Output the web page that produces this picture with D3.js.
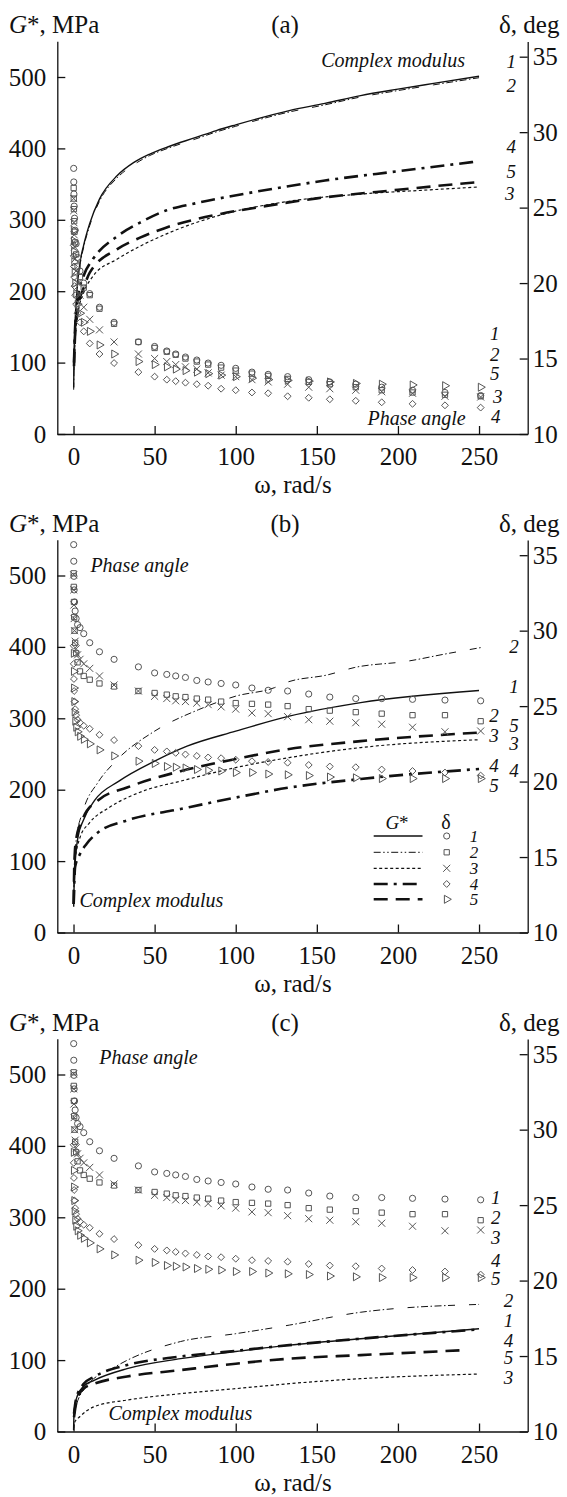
<!DOCTYPE html>
<html>
<head>
<meta charset="utf-8">
<script src="https://cdn.jsdelivr.net/npm/d3@7"></script>
<style>
  body { margin: 0; background: #fff; }
  text { font-family: "Liberation Serif", "Times New Roman", serif; fill: #111; }
</style>
</head>
<body>
<div id="chart"></div>
<script>
// frequency points of the phase-angle sweep, rad/s
var omega = [0.1, 0.16, 0.25, 0.4, 0.63, 1, 1.6, 2.5, 4, 6.3, 10, 16, 25, 40, 50, 57.5, 63, 69, 76, 83, 91, 100, 110, 120, 132, 145, 158, 174, 190, 209, 229, 251];

// panel (a) phase angle, deg
var deltaA1 = [27.6, 26.7, 25.9, 25.1, 24.3, 23.5, 22.6, 21.7, 20.8, 20.0, 19.3, 18.4, 17.4, 16.1, 15.8, 15.5, 15.3, 15.1, 14.9, 14.7, 14.55, 14.35, 14.1, 13.95, 13.8, 13.6, 13.45, 13.3, 13.1, 12.9, 12.75, 12.55];
var deltaA2 = [26.3, 25.6, 24.9, 24.1, 23.4, 22.7, 21.9, 21.1, 20.4, 19.7, 19.2, 18.3, 17.3, 16.1, 15.7, 15.45, 15.25, 15.0, 14.8, 14.6, 14.4, 14.2, 14.0, 13.85, 13.65, 13.45, 13.3, 13.1, 12.9, 12.75, 12.6, 12.5];
var deltaA3 = [25.6, 24.8, 24.0, 23.2, 22.4, 21.6, 20.8, 20.0, 19.2, 18.4, 17.6, 16.9, 16.1, 15.3, 15.0, 14.8, 14.6, 14.45, 14.3, 14.05, 13.9, 13.8, 13.6, 13.45, 13.3, 13.1, 13.0, 12.9, 12.8, 12.7, 12.5, 12.45];
var deltaA4 = [22.5, 21.8, 21.1, 20.4, 19.8, 19.2, 18.6, 18.0, 17.4, 16.8, 16.0, 15.3, 14.7, 14.1, 13.8, 13.6, 13.5, 13.4, 13.3, 13.2, 13.0, 12.9, 12.75, 12.7, 12.5, 12.4, 12.3, 12.2, 12.1, 12.0, 11.9, 11.75];
var deltaA5 = [23.5, 22.8, 22.1, 21.4, 20.7, 20.0, 19.3, 18.6, 18.0, 17.4, 16.8, 15.9, 15.3, 14.8, 14.6, 14.45, 14.3, 14.2, 14.1, 14.0, 13.9, 13.8, 13.7, 13.6, 13.55, 13.5, 13.45, 13.35, 13.3, 13.25, 13.2, 13.1];

// panels (b) and (c) phase angle, deg (same sweep in both)
var deltaB1 = [35.7, 34.6, 33.6, 32.7, 31.9, 31.3, 30.8, 30.4, 30.2, 29.8, 29.2, 28.6, 28.1, 27.6, 27.2, 27.1, 27.0, 26.9, 26.7, 26.6, 26.5, 26.4, 26.2, 26.05, 26.0, 25.8, 25.6, 25.5, 25.5, 25.45, 25.4, 25.35];
var deltaB2 = [33.8, 32.9, 31.9, 30.9, 30.0, 29.2, 28.5, 27.9, 27.3, 27.0, 26.75, 26.5, 26.3, 26.0, 25.87, 25.76, 25.65, 25.6, 25.5, 25.43, 25.3, 25.2, 25.15, 25.1, 25.0, 24.8, 24.7, 24.6, 24.5, 24.4, 24.4, 24.0];
var deltaB3 = [33.7, 32.7, 31.7, 30.8, 30.0, 29.3, 28.8, 28.4, 28.1, 27.8, 27.5, 27.0, 26.4, 26.0, 25.65, 25.5, 25.35, 25.3, 25.2, 25.1, 24.95, 24.8, 24.55, 24.5, 24.3, 24.1, 24.0, 23.9, 23.8, 23.6, 23.3, 23.35];
var deltaB4 = [29.0, 27.8, 26.8, 26.0, 25.3, 24.8, 24.4, 24.1, 23.9, 23.7, 23.5, 23.1, 22.75, 22.35, 22.1, 22.0, 21.9, 21.8, 21.7, 21.6, 21.55, 21.45, 21.35, 21.3, 21.25, 21.1, 21.0, 20.95, 20.8, 20.7, 20.6, 20.4];
var deltaB5 = [28.5, 27.3, 26.2, 25.3, 24.6, 24.0, 23.6, 23.3, 23.0, 22.8, 22.5, 22.1, 21.7, 21.35, 21.2, 21.0, 20.95, 20.9, 20.8, 20.75, 20.7, 20.6, 20.6, 20.5, 20.45, 20.4, 20.3, 20.25, 20.2, 20.2, 20.2, 20.2];

// complex modulus G*, [omega, MPa]
var gA1 = [[0.1, 65], [0.3, 105], [0.6, 135], [1, 158], [2, 198], [4, 240], [6.3, 265], [10, 295], [16, 329], [27, 362], [37, 380], [47, 392], [58, 402], [75, 415], [88, 425], [100, 433], [133, 453], [155, 463], [177, 474], [200, 483], [222, 491], [250, 501]];
var gA2 = [[0.1, 62], [0.3, 100], [0.6, 130], [1, 155], [2, 194], [4, 236], [6.3, 262], [10, 292], [16, 326], [27, 359], [37, 377], [47, 390], [58, 400], [75, 413], [88, 423], [100, 431], [133, 451], [155, 461], [177, 472], [200, 481], [222, 489], [250, 499]];
var gA3 = [[0.3, 90], [1, 130], [3, 172], [6.3, 198], [12, 221], [27, 245], [41, 263], [57, 280], [88, 305], [133, 326], [177, 336], [220, 342], [250, 346]];
var gA4 = [[0.3, 100], [1, 150], [3, 195], [6.3, 222], [12, 245], [27, 277], [41, 296], [57, 313], [75, 323], [97, 333], [130, 346], [155, 355], [200, 368], [250, 382]];
var gA5 = [[0.3, 95], [1, 140], [3, 180], [6.3, 205], [10, 226], [27, 259], [41, 275], [57, 289], [90, 308], [115, 318], [150, 330], [200, 342], [250, 353]];

var gB1 = [[0.1, 36], [0.3, 60], [0.9, 92], [2.7, 133], [6, 157], [13, 185], [28, 212], [50, 240], [70, 261], [100, 282], [133, 303], [177, 322], [250, 339]];
var gB2 = [[0.5, 95], [1.6, 129], [6, 171], [15, 210], [26, 240], [50, 282], [77, 312], [100, 331], [124, 343], [131, 350], [157, 361], [173, 371], [206, 380], [229, 390], [251, 399]];
var gB3 = [[0.1, 40], [0.5, 92], [4, 133], [10, 154], [22, 175], [44, 199], [66, 212], [100, 231], [133, 245], [177, 259], [250, 270]];
var gB4 = [[0.1, 40], [1, 92], [4, 110], [8, 124], [15, 140], [33, 157], [66, 173], [100, 189], [133, 203], [177, 215], [250, 229]];
var gB5 = [[0.1, 40], [0.5, 96], [1.5, 129], [6, 161], [15, 185], [33, 203], [66, 226], [100, 243], [133, 257], [177, 268], [250, 280]];

var gC1 = [[0.05, 2], [0.3, 25], [1.5, 44], [6, 63], [13, 72], [33, 88], [66, 102], [100, 112], [133, 121], [177, 130], [250, 144]];
var gC2 = [[0.3, 20], [1.5, 35], [8, 63], [26, 91], [66, 126], [100, 137], [133, 149], [177, 167], [250, 178]];
var gC3 = [[0.1, 5], [0.5, 12], [4, 21], [13, 35], [33, 44], [66, 53], [100, 60], [133, 67], [177, 74], [250, 80.5]];
var gC4 = [[0.3, 25], [1.5, 45], [6, 66], [13, 77], [33, 93], [66, 105], [100, 113], [133, 121], [177, 130], [250, 143]];
var gC5 = [[0.3, 20], [1.5, 38], [6, 60], [13, 67], [33, 77], [66, 86], [100, 95], [133, 102], [177, 107], [242, 114]];

// tick labels
var xTicks = [0, 50, 100, 150, 200, 250];
var gTicks = [0, 100, 200, 300, 400, 500];
var dTicks = [10, 15, 20, 25, 30, 35];

// annotations: [omega, MPa, text]
var notesA = [[267, 512, "1"], [267, 479, "2"], [267, 393, "4"], [267, 359, "5"], [266, 328, "3"],
              [256.8, 132, "1"], [256.8, 102, "2"], [256.8, 76, "5"], [258.6, 43, "3"], [257.4, 15, "4"]];
var notesB = [[268.6, 391, "2"], [268.6, 335, "1"], [268.6, 281, "5"], [268.6, 256, "3"], [268.6, 218, "4"],
              [256.3, 295, "2"], [256.3, 267, "3"], [256.3, 225, "4"], [256.3, 197, "5"]];
var notesC = [[257.4, 319, "1"], [257.4, 291, "2"], [257.4, 263, "3"], [257.4, 230, "4"], [257.4, 205, "5"],
              [265.2, 174, "2"], [265.2, 147, "1"], [265.2, 119, "4"], [265.2, 95, "5"], [265.2, 67, "3"]];

var lineStyles = [
  {w: 1.4, dash: null},
  {w: 1.0, dash: "7,2.5,1.5,2.5,7,2.5,1.5,2.5,7,2.5,1.5,2.5,7,14"},
  {w: 1.2, dash: "3,2.5"},
  {w: 2.6, dash: "14,6,3,6"},
  {w: 2.6, dash: "14,8"}
];
var symbols = [d3.symbolCircle, d3.symbolSquare, d3.symbolTimes || d3.symbolCross, d3.symbolDiamond2 || d3.symbolDiamond, d3.symbolTriangle];
var symSize = [30, 28, 34, 30, 28];

var svg = d3.select("#chart").append("svg")
    .attr("width", 567)
    .attr("height", 1497);

var x = d3.scaleLinear().domain([-10, 280]).range([57.3, 527.7]);

function panel({bottom, tag, lines, deltas, notes, legend, phaseNote, modulusNote})
{
    var yL = d3.scaleLinear().domain([0, 550]).range([bottom, bottom - 392.7]);
    var yR = d3.scaleLinear().domain([10, 36]).range([bottom, bottom - 392.4]);
    var g = svg.append("g");

    var xAxis = d3.axisBottom(x).tickValues(xTicks).tickSizeInner(-8).tickSizeOuter(0).tickPadding(13.5);
    var lAxis = d3.axisLeft(yL).tickValues(gTicks).tickSizeInner(-8).tickSizeOuter(0).tickPadding(11);
    var rAxis = d3.axisRight(yR).tickValues(dTicks).tickSizeInner(-8).tickSizeOuter(0).tickPadding(5);

    g.append("g").attr("transform", "translate(0," + bottom + ")").call(xAxis);
    g.append("g").attr("transform", "translate(" + x.range()[0] + ",0)").call(lAxis);
    g.append("g").attr("transform", "translate(" + x.range()[1] + ",0)").call(rAxis);
    g.selectAll(".domain, .tick line").attr("stroke", "#111").attr("stroke-width", 1.3);
    g.selectAll(".tick text").attr("font-size", 25).attr("fill", "#111")
        .style("font-family", '"Liberation Serif", "Times New Roman", serif');

    // titles
    var t = g.append("text").attr("x", 9).attr("y", bottom - 401).attr("font-size", 25);
    t.append("tspan").attr("font-style", "italic").text("G");
    t.append("tspan").text("*, MPa");
    g.append("text").attr("x", 285).attr("y", bottom - 401).attr("font-size", 25)
        .attr("text-anchor", "middle").text("(" + tag + ")");
    g.append("text").attr("x", 499).attr("y", bottom - 401).attr("font-size", 25).text("δ, deg");
    g.append("text").attr("x", 293).attr("y", bottom + 59).attr("font-size", 25)
        .attr("text-anchor", "middle").text("ω, rad/s");

    // G* curves
    var line = d3.line().x(d => x(d[0])).y(d => yL(d[1])).curve(d3.curveMonotoneX);
    lines.forEach(function(s, i) {
        g.append("path").datum(s)
            .attr("d", line)
            .attr("fill", "none")
            .attr("stroke", "#111")
            .attr("stroke-width", lineStyles[i].w)
            .attr("stroke-dasharray", lineStyles[i].dash);
    });

    // phase angle markers
    deltas.forEach(function(s, i) {
        g.append("g").selectAll("path")
            .data(s)
            .enter()
            .append("path")
            .attr("d", d3.symbol().type(symbols[i]).size(symSize[i]))
            .attr("transform", function(d, k) {
                return "translate(" + x(omega[k]) + "," + yR(d) + ")" + (i == 4 ? " rotate(90)" : "");
            })
            .attr("fill", "none")
            .attr("stroke", "#555")
            .attr("stroke-width", 1);
    });

    // curve numbers
    g.append("g").selectAll("text")
        .data(notes)
        .enter()
        .append("text")
        .attr("x", d => x(d[0]))
        .attr("y", d => yL(d[1]))
        .attr("font-size", 19)
        .attr("font-style", "italic")
        .text(d => d[2]);

    g.append("text").attr("x", x(phaseNote[0])).attr("y", yL(phaseNote[1]))
        .attr("text-anchor", phaseNote[2]).attr("font-size", 20).attr("font-style", "italic").text("Phase angle");
    g.append("text").attr("x", x(modulusNote[0])).attr("y", yL(modulusNote[1]))
        .attr("text-anchor", modulusNote[2]).attr("font-size", 20).attr("font-style", "italic").text("Complex modulus");

    if (legend) {
        var lg = g.append("g");
        var h = lg.append("text").attr("x", 397).attr("y", bottom - 104).attr("font-size", 19).attr("text-anchor", "middle");
        h.append("tspan").attr("font-style", "italic").text("G");
        h.append("tspan").text("*");
        lg.append("text").attr("x", 446).attr("y", bottom - 104).attr("font-size", 20).attr("text-anchor", "middle").text("δ");
        var rows = [96.5, 80.2, 64.2, 48.5, 33.2];
        rows.forEach(function(r, i) {
            var yy = bottom - r;
            lg.append("line").attr("x1", 373.7).attr("x2", 422.5).attr("y1", yy).attr("y2", yy)
                .attr("stroke", "#111").attr("stroke-width", lineStyles[i].w)
                .attr("stroke-dasharray", i == 1 ? "7,2.5,1.5,2.5,1.5,2.5" : lineStyles[i].dash);
            lg.append("path").attr("d", d3.symbol().type(symbols[i]).size(symSize[i]))
                .attr("transform", "translate(446.7," + yy + ")" + (i == 4 ? " rotate(90)" : ""))
                .attr("fill", "none").attr("stroke", "#555").attr("stroke-width", 1);
            lg.append("text").attr("x", 474).attr("y", yy + 6).attr("font-size", 17)
                .attr("font-style", "italic").attr("text-anchor", "middle").text(i + 1);
        });
    }
}

panel({bottom: 434, tag: "a",
       lines: [gA1, gA2, gA3, gA4, gA5],
       deltas: [deltaA1, deltaA2, deltaA3, deltaA4, deltaA5],
       notes: notesA,
       phaseNote: [241.8, 12.6, "end"], modulusNote: [241.4, 514, "end"]});
panel({bottom: 932.5, tag: "b",
       lines: [gB1, gB2, gB3, gB4, gB5],
       deltas: [deltaB1, deltaB2, deltaB3, deltaB4, deltaB5],
       notes: notesB, legend: true,
       phaseNote: [10.4, 505, "start"], modulusNote: [3.7, 35.7, "start"]});
panel({bottom: 1431.5, tag: "c",
       lines: [gC1, gC2, gC3, gC4, gC5],
       deltas: [deltaB1, deltaB2, deltaB3, deltaB4, deltaB5],
       notes: notesC,
       phaseNote: [15.9, 515, "start"], modulusNote: [21.5, 16.1, "start"]});
</script>
</body>
</html>
